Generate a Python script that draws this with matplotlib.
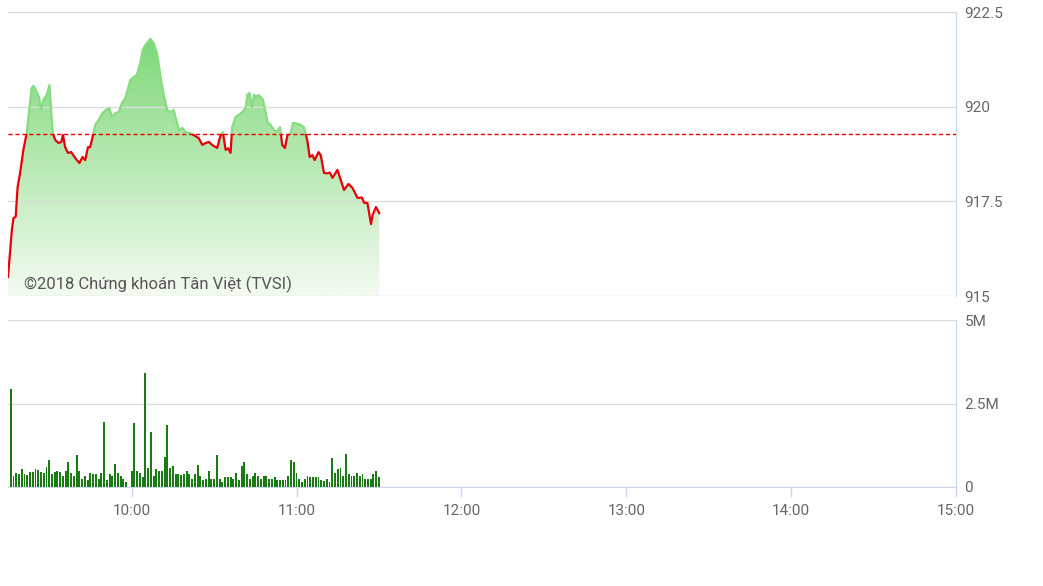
import numpy as np
import matplotlib.pyplot as plt
from matplotlib.patches import Rectangle, Polygon
from matplotlib.colors import LinearSegmentedColormap
from matplotlib.transforms import IdentityTransform

plt.rcParams['font.family'] = ['Roboto', 'DejaVu Sans']

# price line: minutes after 9:00, index value
price_minutes = [15, 16.4, 17, 17.8, 18.5, 19.4, 20.6, 21.8, 22.7, 23.6, 24.3, 25.5, 26.3, 27.1,
                 27.9, 29.1, 30.1, 30.7, 31.3, 32.2, 33.4, 34.4, 35.0, 35.8, 36.8, 38.0, 39.5,
                 41.0, 42.1, 43.1, 44.1, 44.9, 45.8, 46.8, 48.0, 49.4, 50.6, 51.9, 52.8, 54.1,
                 55.3, 56.5, 57.7, 59.5, 60.7, 61.9, 63.2, 64.0, 65.0, 66.8, 68.0, 69.2, 69.9,
                 70.7, 71.7, 72.9, 74.2, 75.3, 76.2, 77.2, 78.4, 79.6, 81.4, 82.6, 84.4, 85.7,
                 86.9, 88.1, 89.3, 91.1, 92.4, 93.2, 94.2, 95.1, 96.0, 96.6, 97.8, 99.0, 100.2,
                 101.5, 102.1, 102.9, 103.7, 104.5, 105.3, 106.1, 107.0, 107.8, 108.8, 109.4,
                 110.6, 111.8, 113.0, 114.0, 114.8, 115.8, 116.7, 117.9, 118.7, 119.7, 121.5,
                 122.7, 123.9, 124.8, 125.8, 126.6, 128.0, 128.8, 130.0, 131.3, 132.1, 133.1,
                 134.9, 136.1, 137.3, 138.9, 140.4, 142.2, 143.8, 144.6, 145.8, 147.1, 147.7,
                 148.9, 150.1]
price_values = [915.50, 916.74, 917.06, 917.09, 917.88, 918.25, 918.86, 919.30, 919.91, 920.49,
                920.55, 920.39, 920.25, 919.91, 920.18, 920.31, 920.57, 919.91, 919.30, 919.12,
                919.04, 919.07, 919.25, 918.93, 918.78, 918.80, 918.64, 918.51, 918.67, 918.59,
                918.93, 918.93, 919.20, 919.52, 919.65, 919.83, 919.91, 919.96, 919.73, 919.83,
                919.86, 920.10, 920.23, 920.70, 920.78, 920.84, 921.18, 921.50, 921.63, 921.79,
                921.68, 921.42, 921.10, 920.70, 920.31, 919.91, 919.86, 919.91, 919.65, 919.38,
                919.44, 919.33, 919.30, 919.25, 919.17, 918.99, 919.04, 919.07, 918.99, 918.91,
                919.25, 919.33, 918.86, 918.90, 918.78, 919.46, 919.73, 919.78, 919.86, 919.96,
                920.31, 920.36, 919.99, 920.31, 920.25, 920.31, 920.25, 920.18, 919.83, 919.59,
                919.52, 919.38, 919.34, 919.46, 918.99, 918.91, 919.25, 919.30, 919.57, 919.56,
                919.52, 919.46, 919.12, 918.67, 918.72, 918.59, 918.80, 918.72, 918.25, 918.24,
                918.26, 918.12, 918.33, 918.06, 917.80, 917.96, 917.85, 917.59, 917.60, 917.46,
                917.46, 916.90, 917.14, 917.35, 917.19]
reference = 919.28

# volume per minute from 9:16, in millions
volume_start = 16
volume_m = [2.93, 0.34, 0.42, 0.40, 0.54, 0.40, 0.37, 0.44, 0.44, 0.54,
            0.50, 0.44, 0.42, 0.59, 0.82, 0.40, 0.44, 0.48, 0.44, 0.34,
            0.48, 0.76, 0.43, 0.34, 0.97, 0.48, 0.25, 0.34, 0.22, 0.43,
            0.40, 0.40, 0.24, 0.43, 1.94, 0.22, 0.40, 0.32, 0.68,
            0.43, 0.32, 0.25, 0.14, 0.0, 0.48, 1.91, 0.48, 0.43, 0.31,
            3.41, 0.58, 1.66, 0.32, 0.54, 0.49, 0.49, 0.91, 1.85,
            0.58, 0.64, 0.40, 0.40, 0.37, 0.40, 0.48, 0.40, 0.25, 0.40,
            0.67, 0.34, 0.22, 0.25, 0.48, 0.25, 0.25, 0.97, 0.25, 0.14,
            0.31, 0.31, 0.31, 0.25, 0.43, 0.22, 0.64, 0.76, 0.40, 0.25,
            0.34, 0.43, 0.34, 0.25, 0.34, 0.34, 0.25, 0.25, 0.31,
            0.22, 0.22, 0.22, 0.22, 0.34, 0.81, 0.76, 0.43, 0.25,
            0.14, 0.25, 0.34, 0.31, 0.31, 0.31, 0.31, 0.22, 0.17, 0.25,
            0.14, 0.86, 0.43, 0.55, 0.58, 0.34, 1.00, 0.40, 0.34, 0.34,
            0.43, 0.34, 0.40, 0.25, 0.25, 0.25, 0.40, 0.49, 0.31]

price_ticks = [915, 917.5, 920, 922.5]
price_labels = ['915', '917.5', '920', '922.5']
vol_ticks = [0, 2.5, 5]
vol_labels = ['0', '2.5M', '5M']
time_ticks = [60, 120, 180, 240, 300, 360]
time_labels = ['10:00', '11:00', '12:00', '13:00', '14:00', '15:00']

x_min, x_max = 15, 360
grid_col = '#dcdcdc'
axis_col = '#ccd6eb'
text_col = '#666666'

W, H = 1043, 586
fig = plt.figure(figsize=(W / 100, H / 100), dpi=100)
ax1 = fig.add_axes([8 / W, 1 - 296 / H, 948 / W, 284 / H])
ax2 = fig.add_axes([8 / W, 1 - 487 / H, 948 / W, 167 / H])

for ax in (ax1, ax2):
    ax.set_xlim(x_min, x_max)
    for s in ('left', 'top'):
        ax.spines[s].set_visible(False)
    ax.spines['right'].set_color(axis_col)
    ax.yaxis.tick_right()
    ax.tick_params(axis='y', length=0, pad=6, labelsize=11, labelcolor=text_col)
    ax.grid(axis='y', color=grid_col, linewidth=1)
    ax.set_axisbelow(False)

# price panel
x = np.array(price_minutes)
y = np.array(price_values)
ax1.spines['bottom'].set_visible(False)
ax1.set_xticks([])
ax1.set_yticks(price_ticks)
ax1.set_yticklabels(price_labels)

# green area fading to white, clipped to the area under the line
cmap = LinearSegmentedColormap.from_list('g', ['#f4fbf2', '#7ed878'])
grad = np.linspace(0, 1, 256).reshape(-1, 1)
im = ax1.imshow(grad, cmap=cmap, origin='lower', aspect='auto',
                extent=[x.min(), x.max(), 915, y.max()], zorder=1)
poly = Polygon(np.column_stack([np.r_[x, x[-1], x[0]], np.r_[y, 915, 915]]),
               closed=True, transform=ax1.transData, facecolor='none', edgecolor='none')
ax1.add_patch(poly)
im.set_clip_path(poly)
ax1.set_xlim(x_min, x_max)
ax1.set_ylim(915, 922.5)

# red below the reference, green above
below = Rectangle((x_min, 914), x_max - x_min, reference - 914, transform=ax1.transData)
above = Rectangle((x_min, reference), x_max - x_min, 923 - reference, transform=ax1.transData)
l_red, = ax1.plot(x, y, color='#e8000b', linewidth=1.6, zorder=4, solid_joinstyle='round')
l_red.set_clip_path(below)
l_grn, = ax1.plot(x, y, color='#86dc80', linewidth=1.6, zorder=4, solid_joinstyle='round')
l_grn.set_clip_path(above)
ax1.axhline(reference, color='#e00000', linewidth=1, linestyle=(0, (3, 2)), zorder=5)

ax1.text(24, H - 284, '©2018 Chứng khoán Tân Việt (TVSI)', transform=IdentityTransform(),
         fontsize=12, color='#555555', va='center', ha='left', zorder=6)

# volume panel
vx = volume_start + np.arange(len(volume_m))
ax2.bar(vx, volume_m, width=0.7, color='#1a7a14', linewidth=0, zorder=3)
ax2.set_ylim(0, 5)
ax2.set_yticks(vol_ticks)
ax2.set_yticklabels(vol_labels)
ax2.spines['bottom'].set_color(axis_col)
ax2.set_xticks(time_ticks)
ax2.set_xticklabels(time_labels)
ax2.tick_params(axis='x', length=7, color=axis_col, width=1, pad=5,
                labelsize=11, labelcolor=text_col)

fig.savefig('out.png', dpi=100)
